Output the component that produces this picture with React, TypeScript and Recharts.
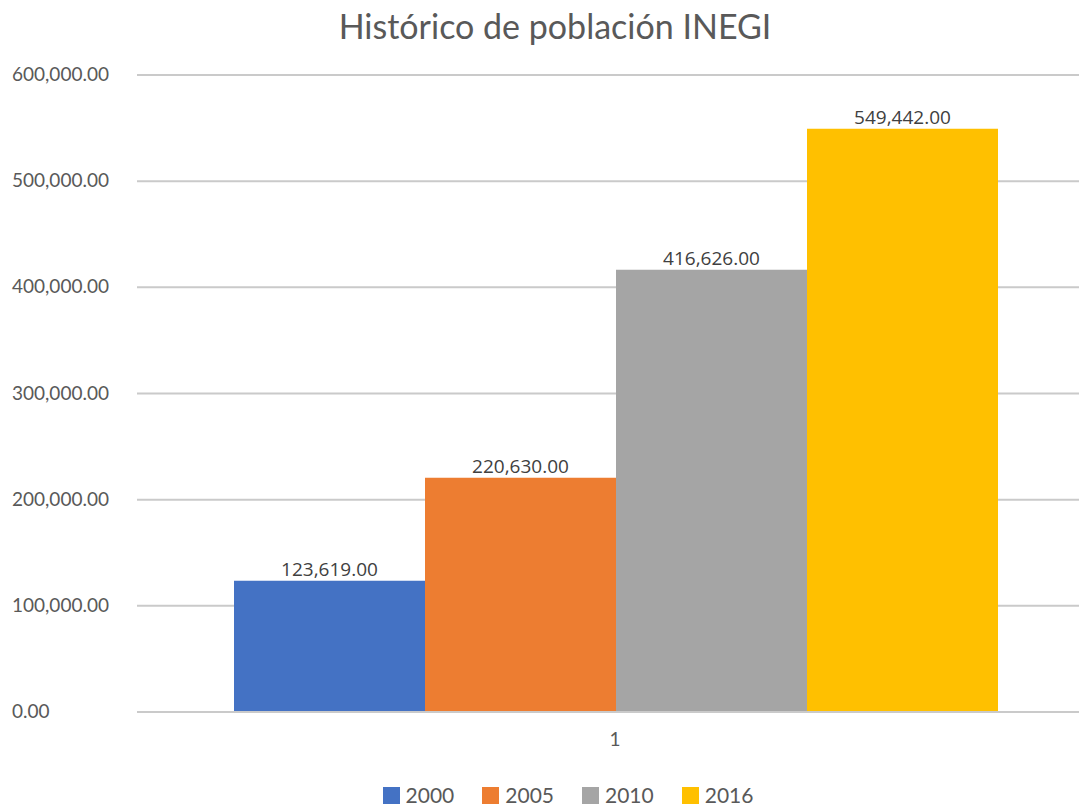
import React from 'react'
import {
  BarChart,
  Bar,
  XAxis,
  YAxis,
  CartesianGrid,
  Legend,
  LabelList,
} from 'recharts'

const categories = ['1']
const seriesNames = ['2000', '2005', '2010', '2016']
const seriesValues = [123619, 220630, 416626, 549442]
const seriesColors = ['#4472C4', '#ED7D31', '#A5A5A5', '#FFC000']
const yTicks = [0, 100000, 200000, 300000, 400000, 500000, 600000]

const fmt = (v: number) =>
  Number(v).toLocaleString('en-US', { minimumFractionDigits: 2, maximumFractionDigits: 2 })

const data = categories.map((c) => {
  const row: Record<string, any> = { name: c }
  seriesNames.forEach((s, i) => {
    row[s] = seriesValues[i]
  })
  return row
})

const YTick = ({ y, payload }: any) => (
  <text x={12} y={y} dy={6} textAnchor="start" fill="#595959" fontSize={19} fontFamily="Lato, sans-serif">
    {fmt(payload.value)}
  </text>
)

const LegendContent = () => (
  <div style={{ display: 'flex', justifyContent: 'center', fontFamily: 'Lato, sans-serif', fontSize: 21, lineHeight: '22px', color: '#595959' }}>
    {seriesNames.map((s, i) => (
      <div key={s} style={{ display: 'flex', alignItems: 'center', marginRight: i < seriesNames.length - 1 ? 28 : 0 }}>
        <span style={{ display: 'inline-block', width: 17, height: 17, background: seriesColors[i], marginRight: 6 }} />
        <span>{s}</span>
      </div>
    ))}
  </div>
)

export default function App() {
  return (
    <div style={{ position: 'fixed', left: 0, top: 0, width: 1079, height: 807, overflow: 'hidden', background: '#fff' }}>
      <style>{'html,body{margin:0;overflow:hidden}'}</style>
      <div
        style={{
          position: 'absolute',
          top: 5,
          left: 0,
          width: 1110,
          textAlign: 'center',
          fontFamily: 'Lato, sans-serif',
          fontSize: 34,
          color: '#595959',
        }}
      >
        Histórico de población INEGI
      </div>
      <BarChart
        width={1079}
        height={807}
        data={data}
        margin={{ top: 75, right: 0, left: 0, bottom: 25 }}
        barCategoryGap={83}
        barGap={0}
      >
        <CartesianGrid horizontal vertical={false} stroke="#cacaca" strokeWidth={2} />
        <YAxis
          width={137}
          domain={[0, 600000]}
          ticks={yTicks}
          axisLine={false}
          tickLine={false}
          tick={<YTick />}
        />
        <XAxis
          dataKey="name"
          height={40}
          padding={{ left: 14, right: 0 }}
          axisLine={{ stroke: '#cacaca', strokeWidth: 2 }}
          tickLine={false}
          tick={{ fill: '#595959', fontSize: 19, fontFamily: 'Lato, sans-serif' }}
          tickMargin={15}
        />
        <Legend
          verticalAlign="bottom"
          height={30}
          content={<LegendContent />}
          wrapperStyle={{ top: 784, bottom: 'auto', left: 0, width: 1136 }}
        />
        {seriesNames.map((s, i) => (
          <Bar key={s} dataKey={s} fill={seriesColors[i]} isAnimationActive={false}>
            <LabelList
              dataKey={s}
              position="top"
              formatter={(v: any) => fmt(v)}
              fill="#404040"
              fontSize={19}
              fontFamily="'Open Sans', sans-serif"
              offset={5}
            />
          </Bar>
        ))}
      </BarChart>
    </div>
  )
}
